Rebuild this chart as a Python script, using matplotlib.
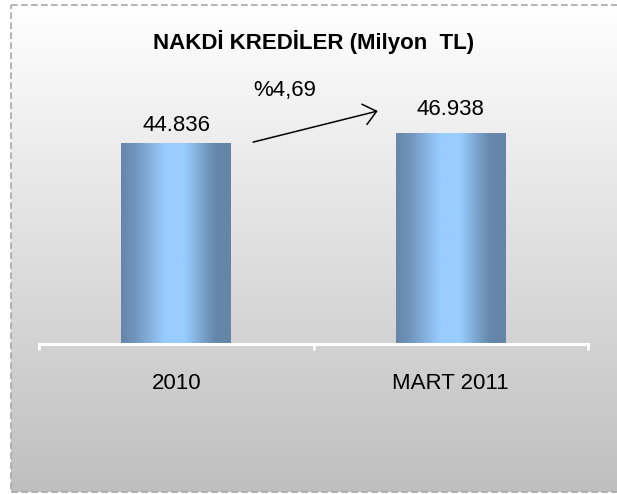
import numpy as np
import matplotlib
matplotlib.use("Agg")
import matplotlib.pyplot as plt
from matplotlib.colors import LinearSegmentedColormap
from matplotlib.patches import Rectangle

# veriler
categories = ["2010", "MART 2011"]
values = [44836, 46938]
title = "NAKDİ KREDİLER (Milyon  TL)"

plt.rcParams['font.family'] = ['Liberation Sans', 'DejaVu Sans']

fig = plt.figure(figsize=(6.17, 4.94), dpi=100)
fig.patch.set_facecolor('white')

# arka plan: dikey gri gecis + kesikli cerceve (piksel koordinatlari)
bg = fig.add_axes([0, 0, 1, 1])
bg_cmap = LinearSegmentedColormap.from_list('bg', ['#ffffff', '#bfbfbf'])
bg.imshow(np.linspace(0, 1, 256).reshape(-1, 1), cmap=bg_cmap,
          extent=(11, 640, 492, 5), aspect='auto')
bg.add_patch(Rectangle((11, 5), 640, 487, fill=False, ec='#a8a8a8',
                       lw=1.2, ls=(0, (4, 2))))
bg.set_xlim(0, 617)
bg.set_ylim(494, 0)
bg.axis('off')

ax = fig.add_axes([39 / 617, 150 / 494, 549 / 617, 314 / 494])
ax.set_facecolor('none')

x = np.arange(len(categories))
bars = ax.bar(x, values, width=0.4, color='none', edgecolor='none')

bar_cmap = LinearSegmentedColormap.from_list('bar', [
    (0.0, '#6686aa'), (0.12, '#6f93ba'), (0.40, '#99ccff'),
    (0.58, '#99ccff'), (0.85, '#6688aa'), (1.0, '#6585a8')])
for b in bars:
    im = ax.imshow(np.linspace(0, 1, 256).reshape(1, -1), cmap=bar_cmap,
                   extent=(b.get_x(), b.get_x() + b.get_width(), 0, b.get_height()),
                   aspect='auto', zorder=2)
    im.set_clip_path(b)

ax.set_xlim(-0.5, len(categories) - 0.5)
ax.set_ylim(0, 70000)

# deger etiketleri
label_dy = [8.5, 13.5]
for b, v, dy in zip(bars, values, label_dy):
    ax.annotate(f"{v:,}".replace(',', '.'),
                xy=(b.get_x() + b.get_width() / 2, b.get_height()),
                xytext=(0, dy), textcoords='offset points',
                ha='center', va='baseline', fontsize=16, color='black')

# artis orani ve ok
pct = (values[1] / values[0] - 1) * 100
ax.text(0.448, 0.790, f"%{pct:.2f}".replace('.', ','), transform=ax.transAxes,
        ha='center', va='baseline', fontsize=16, color='black')
ax.annotate('', xy=(0.617, 0.742), xytext=(0.390, 0.643),
            xycoords='axes fraction', textcoords='axes fraction',
            arrowprops=dict(arrowstyle='->,head_length=0.9,head_width=0.75',
                            mutation_scale=10, lw=1.1, color='black',
                            shrinkA=0, shrinkB=0))

ax.text(0.5, 0.939, title, transform=ax.transAxes, ha='center',
        va='baseline', fontsize=16, fontweight='bold')

for s in ['top', 'right', 'left']:
    ax.spines[s].set_visible(False)
ax.spines['bottom'].set_color('white')
ax.spines['bottom'].set_linewidth(2.2)
ax.set_yticks([])
ax.set_xticks(x, categories)
ax.set_xticks(np.arange(len(categories) + 1) - 0.5, minor=True)
ax.tick_params(axis='x', which='major', length=0, pad=21, labelsize=16)
ax.tick_params(axis='x', which='minor', length=4, width=2, color='white',
               direction='out')

fig.savefig('out.png', dpi=100)
